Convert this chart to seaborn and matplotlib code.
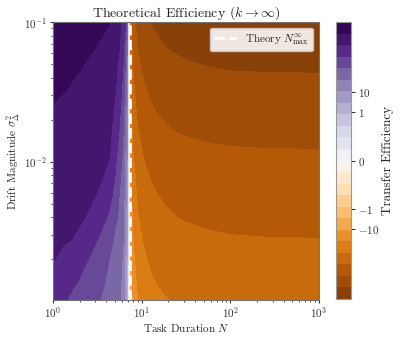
import numpy as np
import matplotlib
matplotlib.use("Agg")
import matplotlib.pyplot as plt
import matplotlib.colors as mcolors
import seaborn as sns

# task duration N (columns) and drift magnitude sigma^2 (rows)
task_duration = [1, 1.3, 1.7, 2.2, 2.8, 3.5, 4.3, 5.0, 5.6, 6.2, 6.6, 6.9, 7.1,
                 7.4, 8.0, 9.0, 10.5, 12.5, 15, 19, 25, 35, 55, 100, 250, 1000]
drift_magnitude = [1e-3, 1.4e-3, 2e-3, 2.8e-3, 4e-3, 5.6e-3, 8e-3,
                   1.1e-2, 1.6e-2, 2.2e-2, 3.2e-2, 4.5e-2, 6.5e-2, 1e-1]

# transfer efficiency, one row per drift magnitude (positive left of N_max, negative right)
efficiency = [
    [850, 646, 447, 355, 245, 141, 79, 65, 49, 19, 3.7, 1.2, 0,
     -4.6, -16.1, -41.4, -69, -98.9, -124, -150, -170, -189, -205, -219, -225, -229],
    [1510, 1096, 708, 479, 347, 214, 112, 79, 59, 25, 4.9, 1.7, 0,
     -6.3, -22.1, -56.9, -94.8, -136, -171, -205, -234, -259, -281, -300, -310, -314],
    [2340, 1820, 1259, 724, 479, 324, 158, 98, 71, 33, 6.5, 2.3, 0,
     -8.8, -30.8, -79.2, -132, -189, -238, -286, -326, -361, -392, -418, -431, -438],
    [2820, 2512, 2188, 1445, 776, 490, 282, 123, 85, 43, 8.5, 3.3, 0,
     -11.8, -41.3, -106, -177, -254, -319, -384, -437, -484, -525, -561, -578, -587],
    [3310, 2951, 2630, 2399, 1585, 851, 501, 224, 123, 55, 11.2, 4.7, 0,
     -16, -56, -144, -240, -344, -432, -520, -592, -656, -712, -760, -784, -796],
    [3980, 3548, 3162, 2818, 2455, 1738, 891, 363, 148, 69, 14.8, 5.9, 0,
     -21.2, -74.2, -191, -318, -456, -572, -689, -784, -869, -943, -1007, -1039, -1055],
    [4680, 4169, 3802, 3388, 2951, 2512, 1585, 603, 214, 89, 19.5, 7.4, 0,
     -29.8, -104, -268, -447, -641, -805, -969, -1103, -1222, -1326, -1416, -1460, -1483],
    [5500, 5012, 4467, 3981, 3467, 3020, 2399, 851, 324, 115, 25, 9.3, 0,
     -40.8, -143, -367, -612, -877, -1102, -1326, -1510, -1673, -1816, -1938, -1999, -2030],
    [6610, 6026, 5370, 4786, 4169, 3631, 2951, 1259, 525, 148, 34, 11.7, 0,
     -60, -210, -540, -900, -1290, -1620, -1950, -2220, -2460, -2670, -2850, -2940, -2985],
    [7760, 7079, 6310, 5623, 5012, 4365, 3548, 1738, 759, 214, 46, 14.8, 0,
     -84, -294, -756, -1260, -1806, -2268, -2730, -3108, -3444, -3738, -3990, -4116, -4179],
    [9550, 8710, 7762, 6918, 6026, 5370, 4467, 2455, 1122, 347, 71, 19.5, 0,
     -124, -434, -1116, -1860, -2666, -3348, -4030, -4588, -5084, -5518, -5890, -6076, -6169],
    [11200, 10230, 9120, 8128, 7244, 6310, 5370, 2951, 1549, 513, 105, 25, 0,
     -180, -630, -1620, -2700, -3870, -4860, -5850, -6660, -7380, -8010, -8550, -8820, -8955],
    [13500, 12300, 10960, 9772, 8710, 7762, 6607, 3715, 2239, 813, 170, 33, 0,
     -260, -910, -2340, -3900, -5590, -7020, -8450, -9620, -10660, -11570, -12350, -12740, -12935],
    [16600, 15490, 13800, 12020, 10960, 9772, 8710, 4786, 3162, 1380, 589, 47, 0,
     -400, -1400, -3600, -6000, -8600, -10800, -13000, -14800, -16400, -17800, -19000, -19600, -19900],
]

n_max_theory = 7.35
cbar_ticks = [-10, -1, 0, 1, 10]
cbar_labels = [r"$-10$", r"$-1$", r"$0$", r"$1$", r"$10$"]

sns.set_style("ticks")
plt.rcParams.update({
    "font.family": "serif",
    "font.serif": ["cmr10"],
    "mathtext.fontset": "cm",
    "axes.formatter.use_mathtext": True,
    "axes.unicode_minus": False,
    "axes.edgecolor": "0.45",
    "axes.linewidth": 0.8,
    "xtick.color": "0.2",
    "ytick.color": "0.2",
    "xtick.major.size": 2.5,
    "ytick.major.size": 2.5,
    "xtick.minor.size": 1.5,
    "ytick.minor.size": 1.5,
    "xtick.major.pad": 1.5,
    "ytick.major.pad": 2,
    "xtick.labelsize": 8,
    "ytick.labelsize": 8,
})

fig = plt.figure(figsize=(4.02, 3.39), dpi=100)
ax = fig.add_axes([0.1318, 0.115, 0.6617, 0.8201])
cax = fig.add_axes([0.8358, 0.118, 0.0373, 0.817])

# symmetric log colour scale
norm = mcolors.SymLogNorm(linthresh=1, linscale=2.19, vmin=-3.2e4, vmax=3.2e4, base=10)
z = norm(np.array(efficiency, dtype=float))

cs = ax.contourf(task_duration, drift_magnitude, z,
                 levels=np.linspace(0, 1, 25), cmap="PuOr", vmin=0, vmax=1)
ax.set_xscale("log")
ax.set_yscale("log")
ax.set_xlim(1, 1000)
ax.set_ylim(1.02e-3, 0.1)

ax.axvline(n_max_theory, color="white", ls="--", lw=2,
           label=r"Theory $N_{\max}^{\infty}$")
ax.legend(loc="upper right", fontsize=8, framealpha=0.88,
          edgecolor="0.8", fancybox=True)

ax.set_title(r"Theoretical Efficiency ($k \to \infty$)", fontsize=10, pad=4)
ax.set_xlabel(r"Task Duration $N$", fontsize=8, labelpad=1)
ax.set_ylabel(r"Drift Magnitude $\sigma^2_\Delta$", fontsize=8, labelpad=1)

cb = fig.colorbar(cs, cax=cax, ticks=norm(np.array(cbar_ticks, dtype=float)))
cb.ax.set_yticklabels(cbar_labels)
cb.ax.tick_params(labelsize=8, length=3, pad=2, color="0.2")
cb.outline.set_edgecolor("0.6")
cb.outline.set_linewidth(0.8)
cb.set_label("Transfer Efficiency", fontsize=9.5, labelpad=2)

fig.savefig("out.png", dpi=100)
